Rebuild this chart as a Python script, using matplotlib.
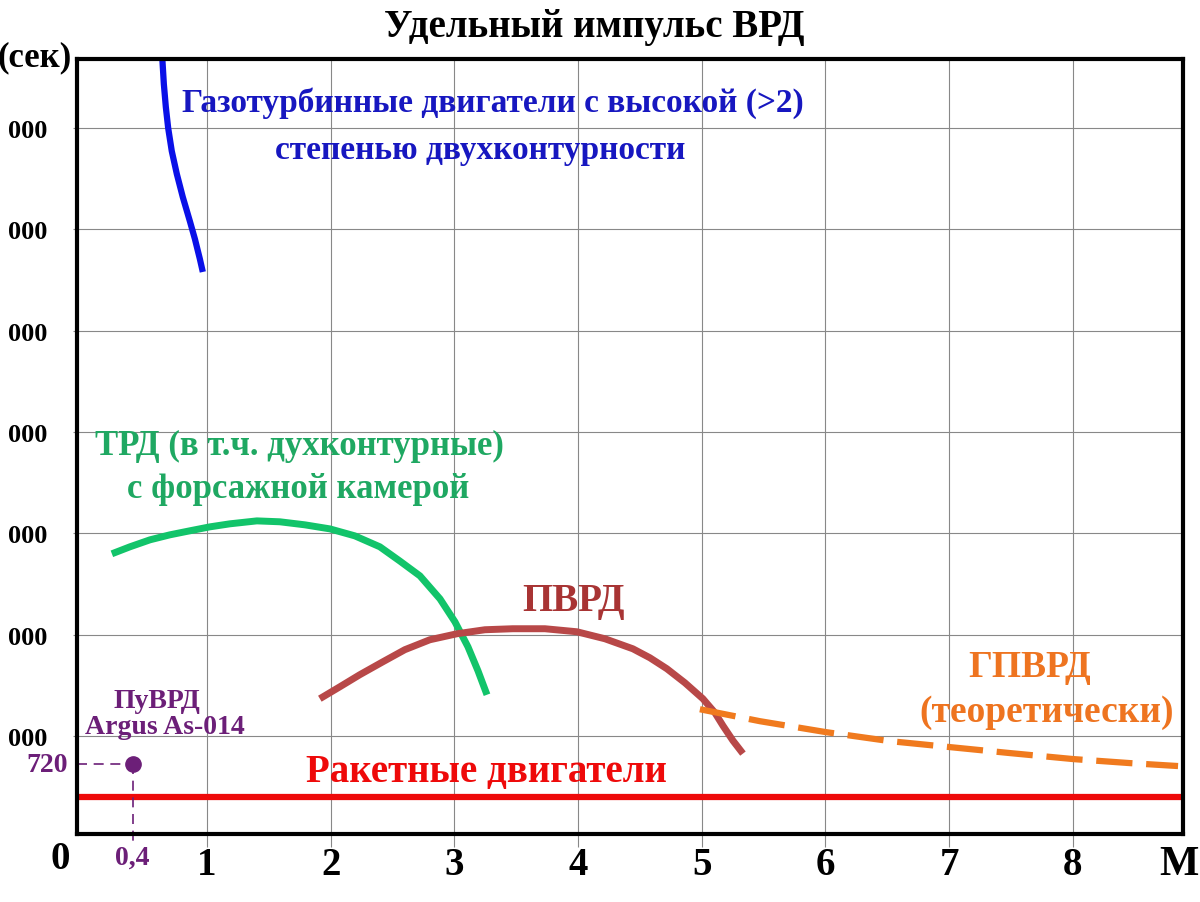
import numpy as np
import matplotlib
matplotlib.use('Agg')
import matplotlib.pyplot as plt

plt.rcParams['font.family'] = ['Liberation Serif', 'DejaVu Serif']
plt.rcParams['font.weight'] = 'bold'

# Mach number vs specific impulse (sec)
turbofan_M = [0.638, 0.652, 0.668, 0.687, 0.716, 0.757, 0.805, 0.862, 0.903, 0.943, 0.967]
turbofan_I = [7720, 7436, 7209, 7001, 6774, 6547, 6320, 6083, 5906, 5709, 5580]

turbojet_M = [0.232, 0.378, 0.540, 0.700, 0.862, 1.024, 1.186, 1.404, 1.590, 1.792,
              1.994, 2.196, 2.398, 2.560, 2.722, 2.884, 3.005, 3.110, 3.191, 3.264]
turbojet_I = [2797, 2866, 2935, 2984, 3024, 3063, 3093, 3122, 3113, 3083,
              3043, 2974, 2866, 2725, 2579, 2352, 2125, 1879, 1642, 1405]

ramjet_M = [1.913, 2.075, 2.236, 2.423, 2.600, 2.802, 3.020, 3.247, 3.473, 3.732, 3.991,
            4.217, 4.443, 4.581, 4.718, 4.864, 5.009, 5.106, 5.171, 5.252, 5.333]
ramjet_I = [1366, 1484, 1603, 1731, 1850, 1948, 2007, 2047, 2057, 2057, 2027,
            1958, 1859, 1770, 1662, 1523, 1366, 1228, 1100, 952, 824]

scramjet_M = [4.985, 5.470, 6.004, 6.521, 7.007, 7.492, 8.001, 8.462, 8.850]
scramjet_I = [1262, 1144, 1036, 947, 888, 829, 770, 730, 701]

rocket_I = 400
pulse_M, pulse_I = 0.4, 720

x_ticks = [1, 2, 3, 4, 5, 6, 7, 8]
y_ticks = [1000, 2000, 3000, 4000, 5000, 6000, 7000]
y_labels = ['000'] * len(y_ticks)

fig = plt.figure(figsize=(12, 9.03), dpi=100)
ax = fig.add_axes([77/1200, 1-835/903, (1183-77)/1200, (835-60)/903])
ax.set_xlim(-0.05, 8.89)
ax.set_ylim(30, 7683)

ax.set_xticks(x_ticks)
ax.set_xticklabels([str(t) for t in x_ticks], fontsize=28)
ax.set_yticks(y_ticks)
ax.set_yticklabels(y_labels, fontsize=19)
ax.tick_params(axis='x', length=9, width=0.8, color='#888888', pad=0)
ax.tick_params(axis='y', length=3, width=0.8, color='#888888', pad=18)
ax.grid(True, color='#888888', linewidth=0.8)
for s in ax.spines.values():
    s.set_linewidth(3)
    s.set_color('black')

ax.plot(turbofan_M, turbofan_I, color='#0a10e8', lw=4.5, solid_capstyle='butt',
        solid_joinstyle='round')
ax.plot(turbojet_M, turbojet_I, color='#12c46a', lw=5, solid_capstyle='butt',
        solid_joinstyle='round')
ax.plot(ramjet_M, ramjet_I, color='#b84848', lw=5, solid_capstyle='butt',
        solid_joinstyle='round')
ax.plot(scramjet_M, scramjet_I, color='#f07a1e', lw=4.5, dashes=(5.8, 2.2))
ax.axhline(rocket_I, color='#ee0a0a', lw=4.5)

purple = '#6c1f78'
ax.plot([-0.05, pulse_M], [pulse_I, pulse_I], color=purple, lw=1.2, ls=(0, (6, 4)), clip_on=False)
ax.plot([pulse_M, pulse_M], [pulse_I, -50], color=purple, lw=1.2, ls=(0, (6, 4)), clip_on=False)
ax.plot([pulse_M], [pulse_I], 'o', color=purple, ms=11)
ax.text(-0.12, pulse_I, '720', color=purple, fontsize=20, ha='right', va='center')
ax.text(pulse_M, -194, '0,4', color=purple, fontsize=20, ha='center', va='center', clip_on=False)
ax.text(0.595, 1346, 'ПуВРД', color=purple, fontsize=20, ha='center', va='center')
ax.text(0.66, 1089, 'Argus As-014', color=purple, fontsize=20, ha='center', va='center')

ax.text(3.31, 7259, 'Газотурбинные двигатели с высокой (>2)', color='#1717c0',
        fontsize=24, ha='center', va='center')
ax.text(3.21, 6794, 'степенью двухконтурности', color='#1717c0',
        fontsize=24, ha='center', va='center')
ax.text(1.746, 3868, 'ТРД (в т.ч. духконтурные)', color='#1fa862',
        fontsize=25, ha='center', va='center')
ax.text(1.735, 3438, 'с форсажной камерой', color='#1fa862',
        fontsize=25, ha='center', va='center')
ax.text(3.96, 2333, 'ПВРД', color='#a83434', fontsize=28, ha='center', va='center')
ax.text(7.65, 1681, 'ГПВРД', color='#ee7420', fontsize=27, ha='center', va='center')
ax.text(7.79, 1237, '(теоретически)', color='#ee7420', fontsize=27, ha='center', va='center')
ax.text(3.26, 645, 'Ракетные двигатели', color='#ee0a0a', fontsize=28, ha='center', va='center')

fig.text(594/1200, 1-28/903, 'Удельный импульс ВРД', fontsize=28, ha='center', va='center')
fig.text(35/1200, 1-58/903, '(сек)', fontsize=25, ha='center', va='center')
fig.text(60/1200, 1-860/903, '0', fontsize=28, ha='center', va='center')
fig.text(1199/1200, 1-865/903, 'M', fontsize=30, ha='right', va='center')

fig.savefig('out.png', dpi=100)
